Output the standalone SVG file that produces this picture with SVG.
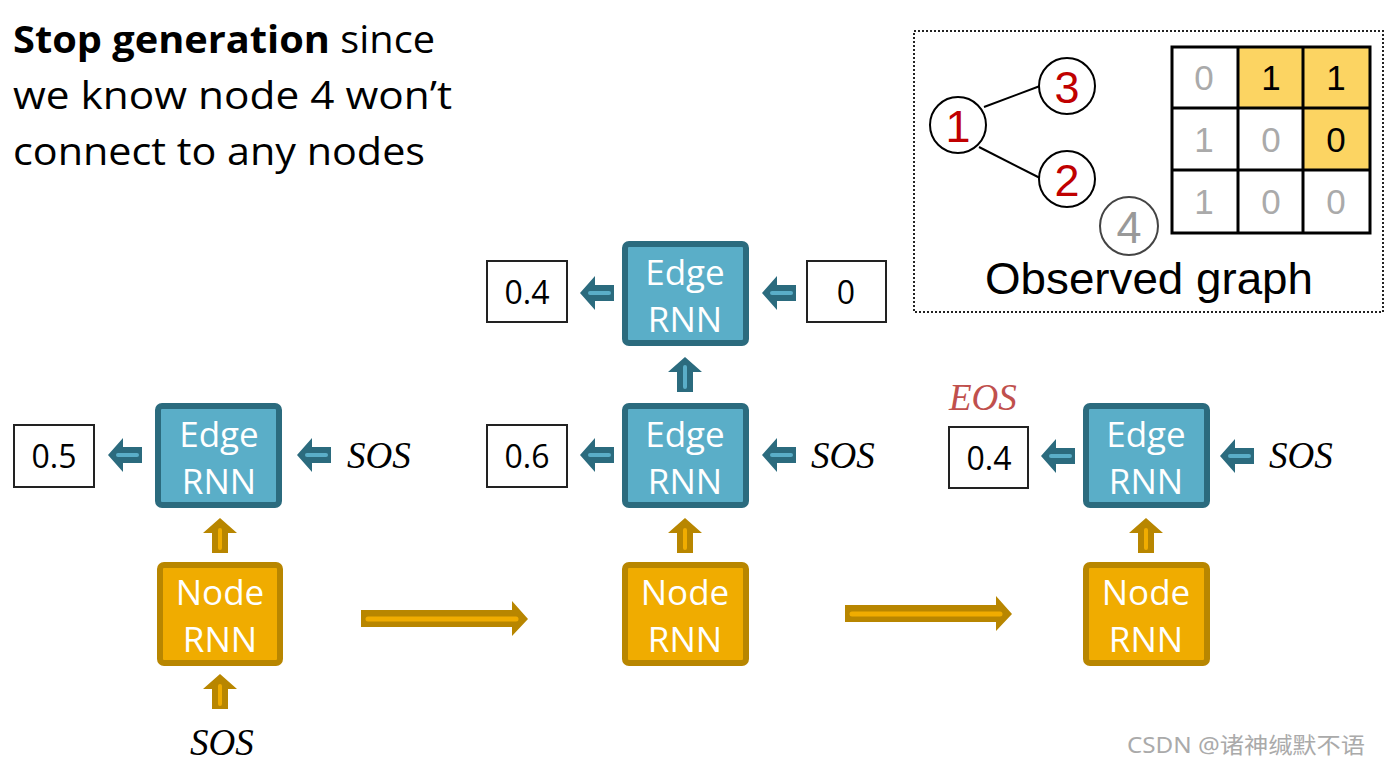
<svg xmlns="http://www.w3.org/2000/svg" width="1398" height="767" viewBox="0 0 1398 767">
<style>
.title{font-family:"Open Sans","Noto Sans",sans-serif;font-size:38px;fill:#000}
.edge rect{fill:#5aaec8;stroke:#2b6b7e;stroke-width:6}
.node rect{fill:#f0ac00;stroke:#b88600;stroke-width:6}
.lbl{font-family:"Open Sans","Noto Sans",sans-serif;font-size:35px;fill:#fff;text-anchor:middle}
.val rect{fill:#fff;stroke:#222;stroke-width:2}
.val text{font-family:"Open Sans","Noto Sans",sans-serif;font-size:32px;fill:#000;text-anchor:middle}
.sos{font-family:"Liberation Serif",serif;font-style:italic;font-size:37px;fill:#000}
.ta{fill:#2b6b7e}
.ti{fill:none;stroke:#5aaec8;stroke-width:4;stroke-linecap:round}
.ga{fill:#b88600}
.gi{fill:none;stroke:#f0ac00;stroke-width:5;stroke-linecap:round}
.gn circle{fill:#fff;stroke:#000;stroke-width:2}
.gn text{font-family:"Liberation Sans",Arial,sans-serif;font-size:45px;fill:#c00000;text-anchor:middle}
.mx text{font-family:"Liberation Sans",Arial,sans-serif;font-size:35px;text-anchor:middle;fill:#aaa}
</style>
<rect width="1398" height="767" fill="#fff"/>
<g id="title">
<text class="title" x="13" y="53" textLength="422" lengthAdjust="spacingAndGlyphs"><tspan font-weight="bold">Stop generation</tspan> since</text>
<text class="title" x="13" y="109" textLength="439" lengthAdjust="spacingAndGlyphs">we know node 4 won’t</text>
<text class="title" x="13" y="165" textLength="412" lengthAdjust="spacingAndGlyphs">connect to any nodes</text>
</g>
<g id="observed">
<rect x="914" y="31" width="469" height="281" fill="none" stroke="#222" stroke-width="2" stroke-dasharray="2,2"/>
<g class="gn">
<line x1="984" y1="107" x2="1040" y2="86" stroke="#000" stroke-width="2"/>
<line x1="979" y1="147" x2="1040" y2="178" stroke="#000" stroke-width="2"/>
<g id="g1"><circle cx="958" cy="125" r="28"/><text x="958" y="142">1</text></g>
<g id="g3"><circle cx="1067" cy="86" r="28"/><text x="1067" y="103">3</text></g>
<g id="g2"><circle cx="1067" cy="179" r="28"/><text x="1067" y="196">2</text></g>
<g id="g4"><circle cx="1129" cy="226" r="29" style="stroke:#444"/><text x="1129" y="243" style="fill:#999">4</text></g>
</g>
<g class="mx">
<rect x="1238" y="47" width="132" height="61" fill="#fcd462"/>
<rect x="1303" y="108" width="67" height="62" fill="#fcd462"/>
<rect x="1172" y="47" width="198" height="186" fill="none" stroke="#000" stroke-width="3"/>
<line x1="1238" y1="47" x2="1238" y2="233" stroke="#000" stroke-width="3"/>
<line x1="1303" y1="47" x2="1303" y2="233" stroke="#000" stroke-width="3"/>
<line x1="1172" y1="108" x2="1370" y2="108" stroke="#000" stroke-width="3"/>
<line x1="1172" y1="170" x2="1370" y2="170" stroke="#000" stroke-width="3"/>
<text x="1204" y="90">0</text><text x="1271" y="90" style="fill:#000">1</text><text x="1336" y="90" style="fill:#000">1</text>
<text x="1204" y="152">1</text><text x="1271" y="152">0</text><text x="1336" y="152" style="fill:#000">0</text>
<text x="1204" y="214">1</text><text x="1271" y="214">0</text><text x="1336" y="214">0</text>
</g>
<text x="1149" y="294" font-family="Liberation Sans,Arial,sans-serif" font-size="45" text-anchor="middle" fill="#000" textLength="328" lengthAdjust="spacingAndGlyphs">Observed graph</text>
</g>
<g id="edge1" class="edge"><rect x="158" y="406" width="121" height="99" rx="4"/><text class="lbl" x="219" y="447">Edge</text><text class="lbl" x="219" y="494">RNN</text></g>
<g id="node1" class="node"><rect x="160" y="565" width="120" height="98" rx="4"/><text class="lbl" x="220" y="605">Node</text><text class="lbl" x="220" y="652">RNN</text></g>
<g id="edge2a" class="edge"><rect x="625" y="244" width="121" height="99" rx="4"/><text class="lbl" x="685" y="285">Edge</text><text class="lbl" x="685" y="332">RNN</text></g>
<g id="edge2" class="edge"><rect x="625" y="406" width="121" height="99" rx="4"/><text class="lbl" x="685" y="447">Edge</text><text class="lbl" x="685" y="494">RNN</text></g>
<g id="node2" class="node"><rect x="625" y="565" width="121" height="98" rx="4"/><text class="lbl" x="685" y="605">Node</text><text class="lbl" x="685" y="652">RNN</text></g>
<g id="edge3" class="edge"><rect x="1086" y="406" width="121" height="99" rx="4"/><text class="lbl" x="1146" y="447">Edge</text><text class="lbl" x="1146" y="494">RNN</text></g>
<g id="node3" class="node"><rect x="1086" y="565" width="121" height="98" rx="4"/><text class="lbl" x="1146" y="605">Node</text><text class="lbl" x="1146" y="652">RNN</text></g>
<g id="v05" class="val"><rect x="14" y="425" width="80" height="62"/><text x="54" y="468">0.5</text></g>
<g id="v06" class="val"><rect x="487" y="425" width="80" height="62"/><text x="527" y="468">0.6</text></g>
<g id="v04a" class="val"><rect x="487" y="261" width="80" height="61"/><text x="527" y="304">0.4</text></g>
<g id="v0" class="val"><rect x="807" y="261" width="79" height="61"/><text x="846" y="304">0</text></g>
<g id="v04b" class="val"><rect x="949" y="427" width="79" height="61"/><text x="989" y="470">0.4</text></g>
<g id="sos-labels">
<text class="sos" x="347" y="468">SOS</text>
<text class="sos" x="811" y="468">SOS</text>
<text class="sos" x="1269" y="468">SOS</text>
<text class="sos" x="190" y="755">SOS</text>
<text class="sos" x="949" y="410" style="fill:#c0504d">EOS</text>
</g>
<defs>
<g id="la"><polygon class="ta" points="0,0 15,-17 15,-8 34,-8 34,8 15,8 15,17"/><line class="ti" x1="10" y1="0" x2="29" y2="0"/></g>
<g id="uat"><polygon class="ta" points="0,0 17,15 8,15 8,35 -8,35 -8,15 -17,15"/><line class="ti" x1="0" y1="10" x2="0" y2="30"/></g>
<g id="uag"><polygon class="ga" points="0,0 17,15 8,15 8,35 -8,35 -8,15 -17,15"/><line class="gi" x1="0" y1="12" x2="0" y2="30" style="stroke-width:4"/></g>
</defs>
<g id="connectors">
<use href="#la" x="108" y="455"/>
<use href="#la" x="297" y="455"/>
<use href="#la" x="580" y="455"/>
<use href="#la" x="762" y="455"/>
<use href="#la" x="580" y="293"/>
<use href="#la" x="762" y="293"/>
<use href="#la" x="1041" y="456"/>
<use href="#la" x="1220" y="456"/>
<use href="#uat" x="685" y="357"/>
<use href="#uag" x="220" y="518"/>
<use href="#uag" x="685" y="518"/>
<use href="#uag" x="1146" y="518"/>
<use href="#uag" x="220" y="674"/>
<g><polygon class="ga" points="361,610 512,610 512,601 528,619 512,636 512,627 361,627"/><line class="gi" x1="368" y1="619" x2="516" y2="619"/></g>
<g><polygon class="ga" points="845,605 996,605 996,596 1012,614 996,631 996,622 845,622"/><line class="gi" x1="852" y1="614" x2="1000" y2="614"/></g>
</g>
<text x="1365" y="753" font-family="'Noto Sans','Noto Sans CJK SC',sans-serif" font-size="22" fill="#aaa" text-anchor="end" textLength="238" lengthAdjust="spacingAndGlyphs">CSDN @诸神缄默不语</text>
</svg>
